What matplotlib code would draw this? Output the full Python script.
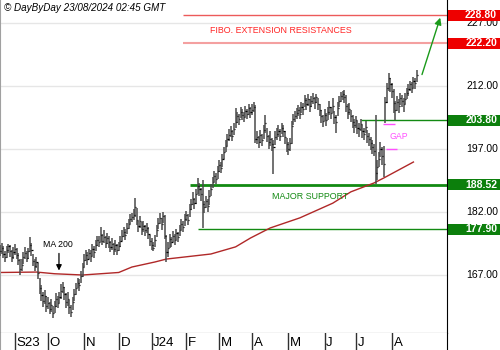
# === LIBS === #
import numpy as np
import pandas as pd
import matplotlib
matplotlib.use('Agg')
from matplotlib import pyplot as plt
from matplotlib import transforms as mtrans
from matplotlib.patches import Rectangle

plt.rcParams['font.family'] = ['Liberation Sans', 'DejaVu Sans']

# === DATA === #
Holidays = ['2023-09-04', '2023-11-23', '2023-12-25', '2024-01-01', '2024-01-15',
            '2024-02-19', '2024-03-29', '2024-05-27', '2024-06-19', '2024-07-04']
Dates = pd.bdate_range('2023-08-21', '2024-08-22', freq='C', holidays=Holidays)

Closes = [
    172.8, 173.5, 172.1, 171.4, 172.9, 173.8, 172.6, 171.2, 172.4, 173.1,
    171.8, 170.6, 168.4, 169.5, 171.2, 172.3, 171.0, 172.6, 174.2, 173.0,
    170.4, 169.2, 170.1, 167.5, 164.0, 162.3, 160.8, 161.9, 159.6, 160.4,
    158.9, 159.8, 157.9, 159.6, 161.2, 160.4, 161.8, 163.1, 164.2, 162.5,
    160.6, 161.4, 159.3, 158.2, 160.5, 162.4, 163.9, 165.2, 164.6, 166.8,
    168.9, 170.6, 171.8, 170.9, 172.3, 171.5, 173.2, 172.4, 174.1, 175.3,
    174.8, 176.5, 175.2, 176.1, 174.6, 175.8, 174.9, 173.6, 174.4, 173.1,
    174.2, 172.9, 173.8, 175.1, 176.4, 177.2, 176.6, 178.3, 179.1, 180.4,
    180.9, 181.4, 183.2, 180.1, 178.6, 179.8, 177.9, 178.7, 177.6,
    178.2, 176.8, 175.1, 174.2, 173.5, 175.3, 177.8, 179.4, 180.6, 179.1,
    181.0, 176.2, 172.4, 173.5, 175.6, 174.8, 176.2, 175.4, 176.9, 176.1,
    177.8, 179.2, 178.5, 180.4, 181.2, 180.1, 182.6, 183.9, 185.2, 184.1,
    186.3, 188.1, 187.4, 186.2, 184.0, 183.2, 184.6, 183.5, 185.8, 187.4,
    189.2, 190.6, 189.8, 191.7, 193.1, 192.4, 194.6, 196.2, 197.8, 199.3,
    200.4, 201.2, 200.1, 201.8, 203.5, 204.8, 204.1, 205.9, 205.2, 204.6,
    206.1, 205.3, 206.7, 205.8, 206.4, 207.1, 199.5, 199.8, 198.6, 200.3,
    199.1, 201.6, 203.2, 200.2, 198.7, 199.5, 198.1, 197.4, 199.8, 200.6,
    201.4, 200.2, 202.1, 201.3, 199.8, 198.2, 196.9, 198.5, 202.4, 204.1,
    204.8, 205.6, 206.3, 205.4, 207.1, 206.5, 208.6, 207.8, 208.9, 207.3,
    208.4, 209.2, 208.1, 209.5, 207.6, 206.3, 204.8, 203.6, 205.1, 204.0,
    205.7, 206.9, 205.5, 207.2, 204.6, 203.4, 206.8, 208.5, 209.6,
    210.1, 209.4, 207.2, 205.8, 206.6, 204.9, 203.5, 202.6, 203.8, 202.1,
    201.7, 202.9, 201.4, 200.6, 202.2, 200.1, 199.3, 198.4, 197.5, 196.6,
    191.2, 192.8, 194.6, 197.1, 195.3, 193.4, 208.2, 211.6, 213.9, 212.4,
    210.8, 207.9, 206.2, 208.1, 207.3, 209.2, 208.4, 207.6, 209.0, 210.3,
    211.2, 212.4, 211.6, 213.1, 212.8, 214.6]

Highs = [
    174.2, 174.6, 173.9, 172.8, 174.0, 174.5, 174.1, 172.9, 173.6, 174.3,
    173.4, 172.2, 170.9, 170.8, 172.4, 173.6, 172.8, 173.5, 176.0, 174.6,
    172.1, 170.8, 171.3, 169.8, 166.2, 164.6, 162.9, 163.4, 162.1, 161.8,
    160.6, 161.2, 159.6, 160.8, 162.7, 162.1, 162.9, 164.8, 165.3, 164.1,
    162.6, 162.9, 161.1, 159.9, 161.8, 163.6, 165.2, 166.4, 166.1, 167.9,
    169.8, 172.1, 173.0, 172.4, 173.3, 172.9, 174.4, 173.8, 175.4, 176.3,
    176.2, 178.4, 176.8, 177.7, 176.2, 177.1, 176.4, 175.2, 175.8, 174.6,
    175.3, 174.4, 174.9, 176.3, 177.6, 178.4, 177.9, 179.4, 180.3, 181.6,
    181.7, 182.6, 185.3, 183.0, 179.9, 181.0, 179.6, 179.9, 178.9,
    179.3, 178.4, 176.6, 175.7, 174.9, 176.6, 178.9, 180.6, 181.8, 180.5,
    182.1, 181.2, 176.5, 174.9, 176.8, 176.1, 177.4, 176.8, 178.0, 177.3,
    178.9, 180.3, 179.8, 181.6, 182.3, 181.5, 183.8, 185.1, 186.8, 185.4,
    187.4, 190.0, 188.9, 187.6, 189.6, 184.7, 185.9, 185.1, 187.2, 188.6,
    190.4, 191.8, 191.2, 192.9, 194.3, 193.8, 195.8, 197.4, 199.1, 200.6,
    201.7, 202.4, 201.6, 203.2, 206.8, 205.9, 205.4, 206.9, 206.6, 205.8,
    207.2, 206.6, 207.8, 207.1, 207.6, 208.2, 207.4, 201.3, 200.2, 201.6,
    200.6, 202.8, 205.0, 202.1, 200.3, 201.2, 199.6, 199.2, 201.3, 201.9,
    202.7, 201.8, 203.2, 202.6, 201.4, 199.6, 198.7, 199.6, 203.6, 205.3,
    206.1, 206.8, 207.5, 206.9, 208.3, 207.9, 209.9, 209.1, 210.1, 208.8,
    209.6, 210.3, 209.5, 210.2, 209.1, 207.8, 206.4, 205.2, 206.5, 205.6,
    206.9, 208.4, 207.0, 209.1, 206.1, 205.2, 208.1, 209.6, 210.6,
    210.8, 211.0, 209.8, 207.6, 208.0, 206.4, 205.1, 204.2, 204.9, 203.7,
    203.2, 204.1, 202.8, 202.1, 203.6, 201.6, 200.9, 199.8, 199.2, 198.3,
    205.0, 194.4, 196.2, 198.6, 197.4, 197.6, 209.4, 212.8, 215.1, 214.0,
    212.6, 211.2, 208.4, 209.6, 208.9, 210.4, 209.8, 209.2, 210.4, 211.5,
    212.5, 213.3, 212.9, 214.2, 214.0, 215.8]

Lows = [
    171.5, 172.0, 171.0, 170.2, 171.1, 172.2, 171.4, 170.1, 170.8, 171.7,
    170.9, 169.4, 167.0, 167.9, 169.6, 170.9, 170.1, 170.8, 172.4, 171.6,
    169.1, 168.0, 168.6, 166.1, 162.5, 160.9, 159.3, 160.1, 158.3, 158.9,
    157.6, 158.1, 156.8, 157.9, 159.4, 159.1, 160.3, 161.4, 162.8, 161.0,
    159.2, 159.7, 157.8, 157.0, 158.6, 160.9, 162.3, 163.8, 163.1, 165.0,
    166.6, 168.9, 170.4, 169.5, 170.8, 170.2, 171.6, 171.1, 172.6, 173.9,
    173.6, 174.9, 174.1, 174.7, 173.4, 174.3, 173.5, 172.4, 173.0, 171.8,
    172.5, 171.8, 172.6, 173.6, 175.0, 176.0, 175.3, 176.8, 177.9, 179.2,
    179.6, 180.2, 180.9, 178.8, 177.2, 178.3, 176.6, 177.3, 176.2,
    176.9, 175.5, 173.8, 172.9, 172.6, 173.6, 176.1, 177.9, 179.2, 177.8,
    179.3, 175.6, 170.1, 171.3, 173.4, 173.6, 174.9, 174.2, 175.4, 174.9,
    176.2, 177.6, 177.3, 178.6, 179.9, 179.0, 180.8, 182.4, 183.6, 182.7,
    183.8, 186.2, 185.9, 184.6, 178.1, 181.8, 182.9, 182.1, 183.6, 185.7,
    187.6, 189.1, 188.7, 189.9, 191.6, 191.2, 192.8, 194.7, 196.3, 197.6,
    198.9, 199.8, 199.0, 200.4, 202.1, 203.3, 202.8, 204.3, 203.9, 203.4,
    204.6, 204.2, 205.1, 204.5, 205.0, 205.8, 198.4, 198.1, 197.2, 198.4,
    197.6, 199.4, 200.8, 198.6, 197.1, 197.8, 196.5, 191.0, 197.9, 199.1,
    199.9, 198.9, 200.5, 199.8, 198.2, 196.4, 195.6, 196.6, 198.2, 202.6,
    203.4, 204.1, 204.9, 204.1, 205.6, 205.2, 206.9, 206.4, 207.3, 205.8,
    206.9, 207.7, 206.6, 207.9, 206.2, 204.8, 203.1, 202.2, 203.6, 202.4,
    203.9, 205.2, 204.1, 205.6, 202.9, 200.8, 204.9, 206.9, 208.1,
    208.6, 207.9, 205.8, 204.1, 205.2, 203.4, 201.9, 200.8, 202.1, 200.6,
    199.9, 201.2, 199.7, 199.2, 200.7, 198.5, 197.6, 196.8, 195.9, 195.4,
    188.7, 189.6, 192.6, 195.1, 193.2, 190.3, 203.2, 207.9, 210.8, 210.6,
    209.1, 205.6, 203.9, 206.1, 205.5, 207.4, 206.9, 205.9, 207.6, 208.8,
    209.6, 210.9, 210.3, 211.6, 211.4, 212.9]

# 200 day moving average, read at a few bars
MaIdx = [0, 22, 33, 50, 72, 80, 94, 101, 128, 143, 152, 164, 182, 202, 213, 227, 233, 251]
MaVals = [167.6, 167.7, 167.3, 167.0, 167.6, 168.9, 170.1, 170.8, 172.0, 173.7,
          175.8, 178.2, 180.6, 184.1, 186.8, 188.9, 190.1, 193.9]

MonthLabels = ['S23', 'O', 'N', 'D', 'J24', 'F', 'M', 'A', 'M', 'J', 'J', 'A']
GridLevels = [167, 182, 197, 212, 227]
ResLevels = [228.80, 222.20]
SupLevels = [203.80, 188.52, 177.90]

# === STYLE === #
BarColor = '#4a4a4a'
MaColor = '#b02828'
ResColor = ['#ec5a5a', '#f4a0a0']
SupColor = '#128a12'
BoxRed = '#ee0000'
BoxGreen = '#0c7f0c'
GapColor = '#ff50ff'
XLim = (-0.12, 271.4)
YLim = (153.19, 232.48)

assert len(Closes) == len(Highs) == len(Lows) == len(Dates)
idx = np.arange(len(Dates))

fig = plt.figure(figsize=(5, 3.5), dpi=100)
ax = fig.add_axes([0, 17/350, 447/500, 333/350])
ax.set_xlim(*XLim)
ax.set_ylim(*YLim)
ax.set_xticks([])
ax.set_yticks([])
for lvl in GridLevels:
    ax.axhline(lvl, color='#e6e6e6', lw=1, zorder=0)

# price bars
ax.vlines(idx, Lows, Highs, color=BarColor, lw=1.1, zorder=3)
ax.hlines(Closes, idx, idx + 0.7, color='k', lw=0.9, zorder=4)

# moving average
ax.plot(MaIdx, MaVals, color=MaColor, lw=1, zorder=2)

# resistance / support levels
ax.hlines(ResLevels[0], 111, XLim[1], color=ResColor[0], lw=1, zorder=1)
ax.hlines(ResLevels[1], 111, XLim[1], color=ResColor[1], lw=1.5, zorder=1)
ax.hlines(SupLevels[0], 219, XLim[1], color=SupColor, lw=1, zorder=1)
ax.hlines(SupLevels[1], 115, XLim[1], color=SupColor, lw=2, zorder=1)
ax.hlines(SupLevels[2], 120, XLim[1], color=SupColor, lw=1, zorder=1)

# gap markers
ax.hlines(203.0, 232.6, 239.9, color=GapColor, lw=1, zorder=5)
ax.hlines(197.0, 234.4, 241.1, color=GapColor, lw=1, zorder=5)
ax.text(236.2, 199.9, 'GAP', color=GapColor, fontsize=6.3, va='center', ha='left')

ax.text(127.5, 225.1, 'FIBO. EXTENSION RESISTANCES', color='#ff2525', fontsize=6.4,
        va='center', ha='left')
ax.text(165.1, 185.8, 'MAJOR SUPPORT', color=SupColor, fontsize=6.4, va='center', ha='left')
ax.text(26, 174.3, 'MA 200', color='k', fontsize=6.3, va='center', ha='left')
ax.annotate('', xy=(35.7, 167.4), xytext=(35.7, 172.8),
            arrowprops=dict(arrowstyle='-|>', color='k', lw=0.9, mutation_scale=8))
ax.annotate('', xy=(267.8, 228.9), xytext=(255.7, 214.1),
            arrowprops=dict(arrowstyle='-|>', color='#1a9a1a', lw=1, mutation_scale=10),
            annotation_clip=False)

ax.spines['top'].set_visible(False)
ax.spines['left'].set_color('#a0a0a0')
ax.spines['right'].set_color('k')
ax.spines['bottom'].set_color('#404040')

# right price scale
trans = mtrans.blended_transform_factory(fig.transFigure, ax.transData)
for lvl in GridLevels:
    fig.text(0.996, lvl, f'{lvl:.2f}', transform=trans, ha='right', va='center',
             fontsize=7.5, zorder=2)
for lvl, col in zip(ResLevels + SupLevels, [BoxRed]*2 + [BoxGreen]*3):
    rect = Rectangle((448/500, lvl - 1.3), 52/500, 2.6, transform=trans,
                     facecolor=col, edgecolor='none', zorder=5, clip_on=False)
    fig.add_artist(rect)
    fig.text(0.994, lvl, f'{lvl:.2f}', transform=trans, ha='right', va='center',
             fontsize=7.5, color='white', fontweight='bold', zorder=6)

# month strip
axm = fig.add_axes([0, 0, 447/500, 17/350])
axm.set_xlim(*XLim)
axm.set_ylim(0, 1)
axm.set_xticks([])
axm.set_yticks([])
axm.spines['top'].set_visible(False)
axm.spines['bottom'].set_visible(False)
axm.spines['left'].set_color('#a0a0a0')
axm.spines['right'].set_color('k')
months = Dates.to_period('M')
MonthStarts = [i for i in range(1, len(Dates)) if months[i] != months[i - 1]]
for pos, lab in zip(MonthStarts, MonthLabels):
    axm.axvline(pos, color='#303030', lw=1)
    axm.text(pos + 1, 0.42, lab, ha='left', va='center', fontsize=9.5)

fig.text(4/500, 1 - 8/350, '\u00a9 DayByDay 23/08/2024 02:45 GMT', style='italic',
         fontsize=7.1, va='center', ha='left')

fig.savefig('out.png', dpi=100)
